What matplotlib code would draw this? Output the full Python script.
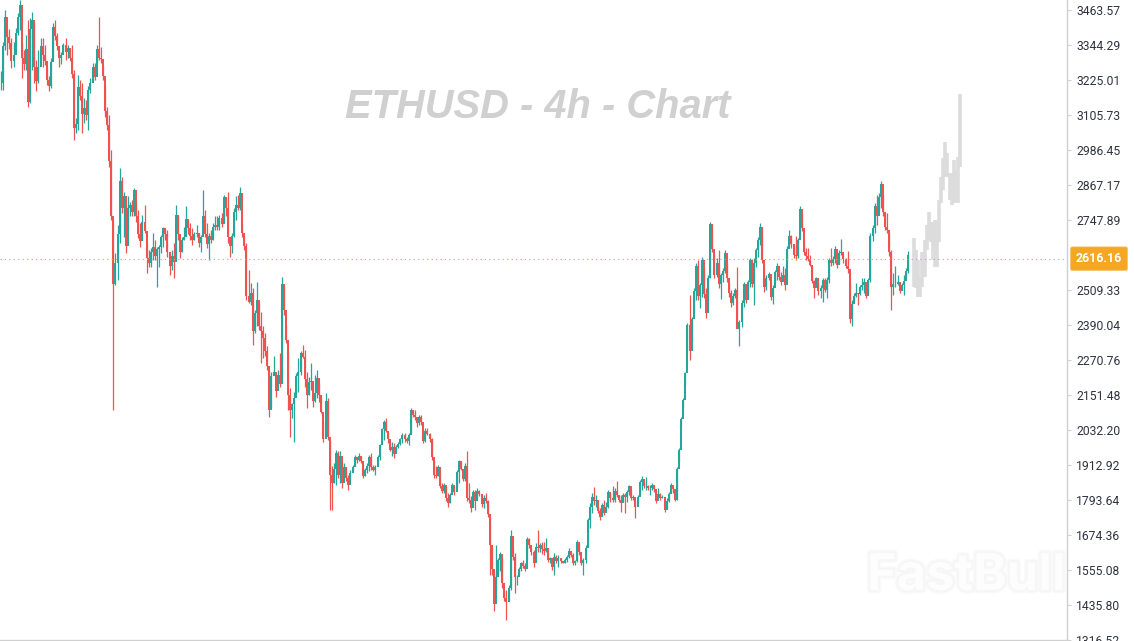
import matplotlib
matplotlib.use("Agg")
import matplotlib.pyplot as plt
import matplotlib.patheffects as pe
import numpy as np

# values, one candle per position
highs = [
    3256, 3356, 3464, 3390, 3400, 3367, 3356, 3401, 3453, 3498,
    3350, 3327, 3379, 3430, 3435, 3458, 3418, 3294, 3328, 3367,
    3367, 3345, 3271, 3237, 3299, 3418, 3430, 3384, 3328, 3320,
    3350, 3367, 3345, 3330, 3345, 3259, 3095, 3242, 3225, 3214, 3163,
    3157, 3203, 3231, 3282, 3282, 3345, 3441, 3339, 3276, 3203,
    3134, 3106, 2987, 2748, 2635, 2731, 2924, 2896, 2845, 2794,
    2828, 2810, 2816, 2856, 2810, 2782, 2737, 2765, 2799, 2669, 2646,
    2652, 2703, 2680, 2657, 2663, 2697, 2725, 2722, 2714, 2635,
    2646, 2669, 2799, 2760, 2680, 2691, 2725, 2794, 2745, 2737,
    2720, 2708, 2731, 2703, 2697, 2850, 2782, 2737, 2703, 2714,
    2737, 2760, 2760, 2765, 2771, 2833, 2825, 2845, 2669, 2703,
    2788, 2828, 2833, 2862, 2737, 2697, 2669, 2578, 2533, 2516,
    2442, 2538, 2470, 2436, 2385, 2362, 2317, 2237, 2231, 2283,
    2192, 2237, 2294, 2555, 2527, 2390, 2300, 2175, 2124, 2163,
    2226, 2277, 2300, 2322, 2305, 2231, 2214, 2260, 2158, 2220,
    2237, 2192, 2146, 2061, 2158, 2141, 1999, 1908, 1919, 1965,
    1959, 1959, 1919, 1919, 1902, 1879, 1896, 1913, 1947, 1936,
    1953, 1942, 1902, 1902, 1919, 1947, 1953, 1913, 1913, 1947, 1985,
    2038, 2067, 2073, 2027, 1987, 1993, 1987, 1982, 1993, 2004,
    2021, 2021, 2010, 2021, 2107, 2101, 2101, 2073, 2084, 2084,
    2027, 2038, 2038, 2021, 2004, 1925, 1908, 1913, 1868, 1851,
    1851, 1840, 1817, 1817, 1851, 1840, 1896, 1930, 1925, 1891,
    1919, 1959, 1851, 1806, 1828, 1828, 1834, 1828, 1811, 1811,
    1817, 1794, 1737, 1635, 1544, 1641, 1595, 1618, 1595, 1487,
    1487, 1505, 1692, 1629, 1612, 1539, 1567, 1584, 1590, 1578,
    1669, 1664, 1629, 1624, 1647, 1692, 1647, 1650, 1652, 1664, 1612,
    1601, 1595, 1612, 1607, 1607, 1595, 1584, 1595, 1607, 1629,
    1618, 1612, 1590, 1658, 1647, 1595, 1595, 1641, 1732, 1783,
    1817, 1837, 1811, 1771, 1766, 1783, 1794, 1788, 1828, 1816,
    1841, 1833, 1858, 1811, 1811, 1816, 1816, 1828,
    1845, 1828, 1811, 1794, 1811, 1862, 1875, 1856,
    1873, 1845, 1845, 1850, 1839, 1828, 1833, 1816,
    1811, 1782, 1799, 1822, 1850, 1839, 1828, 1907, 1970, 2078,
    2140, 2231, 2396, 2492, 2418, 2515, 2600, 2611, 2532,
    2623, 2583, 2515, 2560, 2742, 2725, 2640, 2617, 2646,
    2566, 2583, 2646, 2600, 2532, 2509, 2498, 2515, 2589, 2407,
    2475, 2538, 2521, 2543, 2617, 2583, 2617, 2651, 2691, 2736,
    2725, 2594, 2560, 2572, 2515, 2526, 2577, 2600, 2577, 2572,
    2590, 2584, 2658, 2715, 2697, 2663, 2692, 2686, 2794, 2771,
    2675, 2652, 2652, 2629, 2590, 2544, 2555, 2533, 2527, 2550,
    2550, 2555, 2618, 2652, 2624, 2660, 2629, 2646, 2683, 2635,
    2618, 2641, 2538, 2476, 2499, 2533, 2499, 2527, 2550, 2550,
    2516, 2550, 2703, 2731, 2805, 2834, 2839, 2881, 2834, 2771,
    2771, 2703, 2646, 2567, 2590, 2561, 2527, 2533, 2561, 2584,
    2641,
]
lows = [
    3191, 3191, 3328, 3310, 3330, 3265, 3271, 3340, 3379, 3396,
    3231, 3259, 3259, 3134, 3146, 3259, 3214, 3186, 3214, 3294,
    3271, 3276, 3208, 3186, 3197, 3299, 3362, 3328, 3271, 3280,
    3316, 3294, 3299, 3290, 3231, 3021, 3043, 3055, 3157, 3043, 3078,
    3089, 3055, 3180, 3220, 3225, 3282, 3294, 3282, 3225, 3100,
    3055, 2930, 2748, 2101, 2527, 2544, 2669, 2771, 2691, 2635,
    2714, 2760, 2760, 2760, 2740, 2686, 2657, 2680, 2703, 2566, 2589,
    2589, 2612, 2612, 2521, 2589, 2635, 2657, 2680, 2623, 2561,
    2578, 2549, 2680, 2680, 2618, 2640, 2680, 2703, 2700, 2680,
    2663, 2680, 2691, 2657, 2640, 2748, 2691, 2652, 2612, 2669,
    2680, 2714, 2714, 2714, 2725, 2760, 2760, 2669, 2623, 2635,
    2691, 2748, 2782, 2782, 2691, 2646, 2475, 2464, 2459, 2322,
    2362, 2385, 2374, 2260, 2277, 2283, 2237, 2078, 2107, 2226,
    2146, 2192, 2180, 2214, 2425, 2328, 2101, 2010, 2072, 1993,
    2158, 2163, 2220, 2277, 2180, 2107, 2152, 2169, 2112, 2129,
    2141, 2129, 2089, 1993, 2055, 1999, 1760, 1760, 1851, 1845,
    1868, 1851, 1834, 1868, 1857, 1828, 1862, 1891, 1908, 1919,
    1925, 1919, 1868, 1874, 1885, 1891, 1896, 1891, 1879, 1908, 1930,
    1999, 1999, 2027, 1987, 1959, 1942, 1936, 1965, 1970, 1982,
    1987, 1993, 1987, 1982, 2021, 2078, 2067, 2044, 2050, 2050,
    1987, 1993, 2016, 1993, 1930, 1868, 1868, 1874, 1834, 1817,
    1817, 1789, 1771, 1783, 1817, 1811, 1840, 1851, 1896, 1857,
    1857, 1789, 1783, 1754, 1771, 1760, 1800, 1806, 1771, 1766,
    1783, 1737, 1539, 1539, 1414, 1482, 1544, 1550, 1493, 1448,
    1385, 1448, 1487, 1590, 1476, 1505, 1539, 1550, 1561, 1550,
    1590, 1629, 1607, 1567, 1595, 1618, 1618, 1610, 1607, 1618, 1584,
    1578, 1556, 1539, 1578, 1567, 1578, 1578, 1578, 1584, 1595,
    1601, 1573, 1573, 1584, 1607, 1573, 1539, 1578, 1635, 1698,
    1749, 1777, 1771, 1749, 1726, 1743, 1743, 1760, 1765, 1788,
    1788, 1788, 1805, 1788, 1754, 1788, 1748, 1788,
    1811, 1794, 1794, 1733, 1788, 1816, 1828, 1833,
    1828, 1828, 1811, 1828, 1822, 1782, 1799, 1794,
    1799, 1754, 1765, 1788, 1822, 1816, 1790, 1794, 1924, 2038,
    2112, 2185, 2299, 2271, 2333, 2435, 2475, 2475, 2447,
    2487, 2481, 2413, 2492, 2549, 2640, 2549, 2555, 2515,
    2479, 2538, 2566, 2538, 2487, 2452, 2458, 2481, 2407, 2320,
    2384, 2452, 2464, 2509, 2521, 2521, 2458, 2589, 2623, 2663,
    2600, 2501, 2509, 2543, 2475, 2462, 2532, 2543, 2543, 2526,
    2544, 2510, 2607, 2658, 2652, 2618, 2612, 2618, 2703, 2709,
    2629, 2612, 2607, 2590, 2533, 2482, 2521, 2493, 2482, 2470,
    2504, 2482, 2533, 2590, 2595, 2601, 2584, 2601, 2629, 2601,
    2584, 2567, 2396, 2385, 2470, 2487, 2459, 2493, 2510, 2499,
    2482, 2510, 2538, 2675, 2703, 2731, 2777, 2788, 2760, 2714,
    2703, 2624, 2440, 2493, 2521, 2527, 2499, 2521, 2493, 2550,
    2567,
]
closes = [
    3215, 3340, 3440, 3370, 3350, 3290, 3310, 3385, 3440, 3480,
    3300, 3280, 3330, 3150, 3400, 3430, 3270, 3220, 3270, 3340,
    3310, 3290, 3225, 3205, 3285, 3405, 3375, 3340, 3300, 3310,
    3345, 3320, 3335, 3300, 3245, 3060, 3075, 3200, 3170, 3110, 3130,
    3105, 3190, 3215, 3270, 3235, 3330, 3300, 3295, 3240, 3120,
    3070, 2950, 2760, 2530, 2600, 2700, 2880, 2790, 2830, 2660,
    2790, 2800, 2775, 2850, 2760, 2700, 2675, 2740, 2710, 2620, 2600,
    2640, 2655, 2625, 2650, 2655, 2690, 2720, 2700, 2640, 2590,
    2625, 2605, 2765, 2700, 2640, 2680, 2690, 2750, 2720, 2695,
    2680, 2700, 2705, 2670, 2690, 2760, 2700, 2665, 2695, 2680,
    2725, 2730, 2725, 2755, 2735, 2825, 2790, 2690, 2660, 2695,
    2775, 2800, 2790, 2840, 2705, 2660, 2490, 2470, 2500, 2370,
    2430, 2475, 2385, 2370, 2345, 2300, 2250, 2100, 2215, 2230,
    2165, 2220, 2190, 2530, 2440, 2340, 2150, 2100, 2120, 2140,
    2215, 2230, 2295, 2280, 2205, 2150, 2195, 2200, 2130, 2160,
    2210, 2150, 2095, 2000, 2130, 2010, 1880, 1850, 1900, 1955,
    1880, 1945, 1850, 1905, 1870, 1845, 1885, 1905, 1940, 1930,
    1945, 1925, 1875, 1895, 1910, 1940, 1905, 1895, 1905, 1940, 1980,
    2035, 2060, 2030, 2000, 1965, 1975, 1950, 1975, 1985, 2000,
    2015, 2000, 1995, 2015, 2100, 2085, 2075, 2055, 2075, 2060,
    1995, 2030, 2020, 2000, 1940, 1880, 1875, 1905, 1840, 1825,
    1845, 1800, 1785, 1810, 1845, 1820, 1890, 1925, 1900, 1865,
    1910, 1800, 1795, 1765, 1820, 1790, 1825, 1815, 1780, 1800,
    1790, 1745, 1640, 1560, 1440, 1530, 1590, 1610, 1510, 1460,
    1445, 1495, 1670, 1600, 1530, 1530, 1560, 1580, 1570, 1560,
    1660, 1640, 1615, 1580, 1635, 1630, 1640, 1625, 1620, 1630, 1590,
    1595, 1565, 1600, 1585, 1595, 1585, 1580, 1590, 1600, 1620,
    1605, 1580, 1585, 1650, 1615, 1580, 1590, 1630, 1725, 1770,
    1805, 1790, 1795, 1755, 1735, 1775, 1750, 1770, 1820, 1800,
    1795, 1825, 1810, 1795, 1785, 1810, 1805, 1820,
    1840, 1800, 1805, 1770, 1805, 1855, 1865, 1840,
    1840, 1835, 1835, 1845, 1830, 1790, 1815, 1800,
    1805, 1760, 1790, 1815, 1845, 1830, 1795, 1900, 1965, 2070,
    2135, 2225, 2390, 2300, 2410, 2505, 2590, 2490, 2525,
    2610, 2495, 2430, 2550, 2735, 2650, 2560, 2600, 2530,
    2560, 2575, 2635, 2550, 2500, 2465, 2490, 2510, 2375, 2400,
    2465, 2530, 2475, 2535, 2610, 2530, 2600, 2645, 2680, 2725,
    2610, 2520, 2550, 2565, 2485, 2515, 2570, 2590, 2555, 2535,
    2560, 2525, 2650, 2695, 2665, 2630, 2625, 2680, 2785, 2720,
    2640, 2625, 2615, 2595, 2540, 2515, 2550, 2505, 2515, 2545,
    2510, 2545, 2610, 2600, 2615, 2650, 2595, 2635, 2640, 2615,
    2590, 2580, 2410, 2460, 2490, 2500, 2495, 2520, 2525, 2535,
    2490, 2545, 2695, 2720, 2795, 2760, 2825, 2870, 2775, 2725,
    2715, 2640, 2520, 2530, 2530, 2535, 2505, 2525, 2540, 2575,
    2630,
]
# grey projected path after the last candle
proj_highs = [2685, 2646, 2611, 2555, 2640, 2680, 2731, 2776, 2742, 2736, 2748, 2748,
              2816, 2895, 2958, 3015, 2975, 2907, 2907, 2952, 2918, 2964, 3179]
proj_lows = [2521, 2515, 2487, 2487, 2521, 2555, 2646, 2680, 2674, 2611, 2589, 2589,
             2674, 2805, 2850, 2895, 2895, 2816, 2799, 2805, 2810, 2805, 2930]

last_price = 2616.16
tick_values = [3463.57, 3344.29, 3225.01, 3105.73, 2986.45, 2867.17, 2747.89, 2509.33,
               2390.04, 2270.76, 2151.48, 2032.20, 1912.92, 1793.64, 1674.36, 1555.08,
               1435.80, 1316.52]

assert len(highs) == len(lows) == len(closes), (len(highs), len(lows), len(closes))
n = len(closes)
highs = np.array(highs)
lows = np.array(lows)
closes = np.array(closes)
opens = np.r_[closes[0], closes[:-1]]
idx = np.arange(n)
up = closes >= opens
colors = np.where(up, "#26a69a", "#ef5350")

W, H = 1134, 641
fig = plt.figure(figsize=(W / 100, H / 100), dpi=100, facecolor="white")
ax = fig.add_axes([0, 1 / H, 1067 / W, 640 / H])

step = 2.08
ax.set_xlim(-0.5, -0.5 + 1067 / step)
ax.set_ylim(1316.52, 3497.65)

ax.vlines(idx, lows, highs, colors=colors, linewidth=0.9, zorder=3)
ax.vlines(idx, np.minimum(opens, closes), np.maximum(opens, closes), colors=colors, linewidth=1.45, zorder=3)

proj_idx = n + 2 + np.arange(len(proj_highs))
ax.vlines(proj_idx, proj_lows, proj_highs, colors="#dcdcdc", linewidth=2.6, zorder=2)

ax.axhline(last_price, color="#e8a33a", linewidth=0.8, linestyle=(0, (1, 3)), zorder=4)

for s in ["top", "left"]:
    ax.spines[s].set_visible(False)
for s in ["right", "bottom"]:
    ax.spines[s].set_color("#d0d0d0")
    ax.spines[s].set_linewidth(1)

ax.set_xticks([])
ax.yaxis.tick_right()
ax.set_yticks(tick_values)
ax.set_yticklabels(["%.2f" % v for v in tick_values], fontfamily="Roboto", fontsize=8.7, color="#2f3340")
ax.tick_params(axis="y", length=3.2, width=0.8, color="#d0d0d0", pad=3.5)

# last price tag on the axis
ax.text(1099 / 1067, last_price, "%.2f" % last_price, transform=ax.get_yaxis_transform(),
        ha="center", va="center", fontfamily="Roboto", fontsize=8.9, fontweight="bold", color="white",
        bbox=dict(boxstyle="round,pad=0.42,rounding_size=0.12", fc="#f5a623", ec="#f7bb5c", lw=0.6),
        clip_on=False, zorder=6)

ax.text(538 / 1067, 1 - 118 / 640, "ETHUSD - 4h - Chart", transform=ax.transAxes, ha="center", va="baseline",
        fontfamily="Liberation Sans", fontsize=28.7, fontweight="bold", fontstyle="italic", color="#d0d0d0", zorder=5)

# watermark, barely visible
wm = ax.text(867 / 1067, 1 - 590 / 640, "FastBull", transform=ax.transAxes, ha="left", va="baseline",
             fontfamily="Inter", fontsize=36.5, fontweight="bold", color="#fdfdfd", clip_on=True, zorder=1)
wm.set_path_effects([pe.Stroke(linewidth=5, foreground="#fafafa"), pe.Stroke(linewidth=3, foreground="#f6f6f6"), pe.Normal()])

fig.savefig("out.png", dpi=100, facecolor="white")
